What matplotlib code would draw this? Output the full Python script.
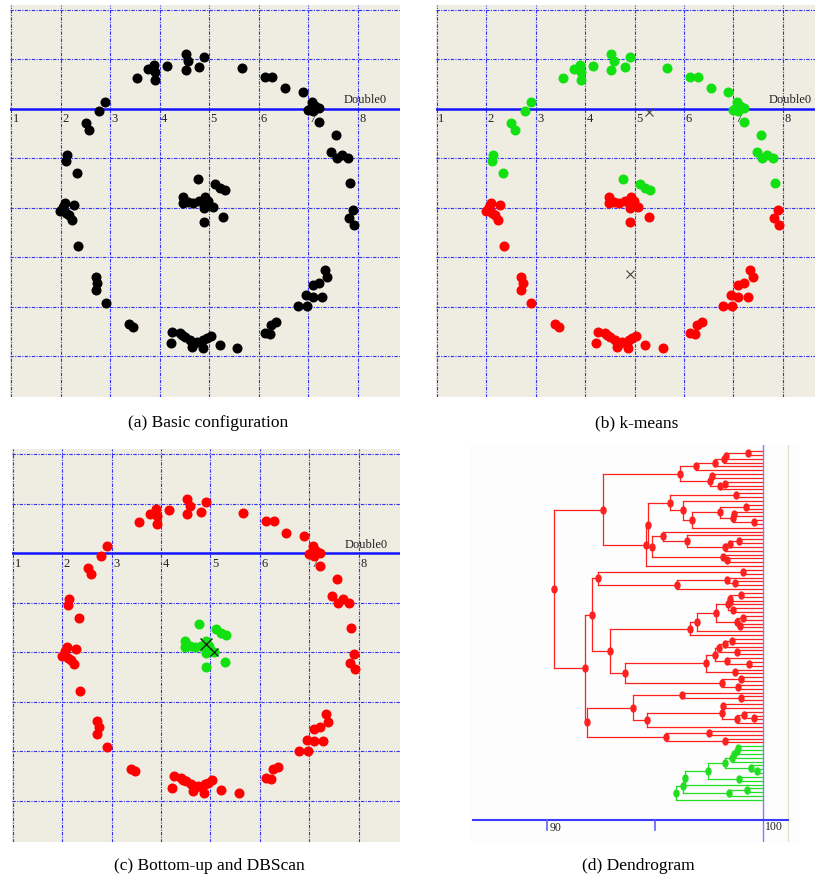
import numpy as np
import matplotlib.pyplot as plt
from matplotlib.path import Path
import matplotlib.transforms as mtransforms

# ---- point data ----
# outer ring, upper part: green in k-means, red in bottom-up
ring_up_x = [3.55, 3.77, 3.89, 3.91, 3.91, 4.16, 4.53, 4.58, 4.53, 4.80, 4.90, 5.66,
             6.13, 6.28, 6.54, 6.90, 7.07, 7.00, 7.14, 7.21, 7.05, 7.10, 7.21, 7.56,
             7.47, 7.58, 7.68, 7.81, 7.85, 2.90, 2.78, 2.51, 2.58, 2.14, 2.12, 2.33]
ring_up_y = [0.63, 0.80, 0.89, 0.75, 0.59, 0.87, 1.10, 0.96, 0.79, 0.84, 1.04, 0.82,
             0.65, 0.65, 0.42, 0.35, 0.15, -0.02, 0.05, 0.01, 0.02, -0.05, -0.26, -0.52,
             -0.86, -1.00, -0.93, -1.00, -1.50, 0.15, -0.05, -0.29, -0.42, -0.93, -1.05, -1.30]
# outer ring, lower part: red everywhere
ring_low_x = [7.90, 7.83, 7.93, 2.09, 2.27, 1.99, 2.12, 2.23, 2.05, 2.17, 2.36, 2.71,
              2.74, 2.71, 2.91, 3.39, 3.47, 4.26, 4.41, 4.23, 4.51, 4.61, 4.65, 4.75,
              4.88, 4.87, 5.03, 4.95, 4.70, 4.45, 5.22, 5.57, 6.13, 6.23, 6.26, 6.36,
              6.79, 6.98, 6.96, 7.10, 7.21, 7.09, 7.29, 7.34, 7.39]
ring_low_y = [-2.04, -2.21, -2.34, -1.90, -1.94, -2.07, -2.11, -2.24, -1.98, -2.15, -2.77, -3.39,
              -3.51, -3.65, -3.92, -4.35, -4.40, -4.50, -4.53, -4.73, -4.60, -4.66, -4.80, -4.70,
              -4.66, -4.83, -4.58, -4.63, -4.72, -4.57, -4.77, -4.83, -4.53, -4.55, -4.36, -4.31,
              -3.99, -3.99, -3.76, -3.55, -3.51, -3.79, -3.79, -3.25, -3.40]
# inner core, upper part: green in both
core_up_x = [4.77, 5.12, 5.22, 5.32]
core_up_y = [-1.42, -1.52, -1.60, -1.64]
# inner core, lower part: red in k-means, green in bottom-up
core_low_x = [4.48, 4.48, 4.68, 4.80, 4.92, 4.90, 4.98, 4.90, 5.07, 5.29, 4.90, 4.58, 4.92]
core_low_y = [-1.77, -1.90, -1.90, -1.87, -1.77, -1.92, -1.87, -2.01, -1.99, -2.19, -2.29, -1.88, -1.83]

kmeans_cx = [5.29, 4.90]
kmeans_cy = [-0.07, -3.34]
dbscan_cx = [4.90, 5.07]
dbscan_cy = [-1.83, -1.99]

x_ticks = [1, 2, 3, 4, 5, 6, 7, 8]
y_grid = [2, 1, -1, -2, -3, -4, -5]

# ---- dendrogram: (height, upper child, lower child), 0 = leaf ----
A1 = (96.18, (96.88, (97.77, (98.20, (98.28, (99.31, 0, 0), 0), 0), 0), 0),
      (97.54, (97.66, 0, 0), (98.03, (98.23, 0, 0), 0)))
A2 = (94.57, (94.66,
              (95.69, (98.74, 0, 0),
               (96.31, 0, (96.70, (98.03, (99.23, 0, 0), (98.62, (98.65, 0, 0), (99.60, 0, 0))), 0))),
              (94.88, (95.35, 0, (96.48, 0, (98.23, (98.49, (98.90, 0, 0), 0), 0))),
               (98.15, 0, (98.31, 0, 0)))), 0)
B1 = (92.08, (92.34, (99.08, 0, 0), (96.03, (98.31, 0, (98.68, 0, 0)), 0)),
      (92.91, (96.62, (96.95, (97.80, (98.40, (98.46, (99.00, 0, 0), (98.46, 0, 0)), (98.62, 0, 0)),
                                (98.80, (99.05, 0, 0), (98.95, 0, 0))), 0), 0),
       (93.62, (97.38, (97.77, (97.97, (98.23, (98.58, 0, 0), 0), (98.80, 0, 0)),
                        (98.31, 0, (99.35, 0, 0))), (98.70, 0, 0)),
        (98.08, (99.00, 0, 0), (98.85, 0, 0)))))
B2 = (91.86, (94.00, (96.23, 0, (99.00, 0, 0)),
              (94.62, (98.08, (98.15, 0, 0), (98.80, (99.10, 0, (99.60, 0, 0)), 0)), 0)),
      (95.49, (97.50, 0, 0), (98.26, 0, 0)))
red_tree = (90.35, (92.58, A1, A2), (91.78, B1, B2))
green_tree = (95.97, (96.28, (96.38, (97.46, (98.23, (98.58, (98.65, (98.80, (98.85, 0, 0), 0), 0), 0),
                                               (99.45, 0, (99.70, 0, 0))), (98.89, 0, 0)), 0),
                      (98.43, (99.26, 0, 0), 0)), 0)

serif = 'Liberation Serif'
bg = '#efece2'
grid_c = '#2f2fff'

fig = plt.figure(figsize=(8.15, 8.8), dpi=100)


def add_ax(l, t, r, b):
    return fig.add_axes([l / 815, 1 - b / 880, (r - l) / 815, (b - t) / 880])


def scatter_panel(ax, xlim, ylim):
    ax.set_facecolor(bg)
    ax.set_xlim(*xlim)
    ax.set_ylim(*ylim)
    ax.set_xticks([])
    ax.set_yticks([])
    for s in ax.spines.values():
        s.set_visible(False)
    for gx in x_ticks:
        ax.axvline(gx, color=grid_c, lw=0.8, ls=(0, (3, 1.2, 1, 1.2)), zorder=1)
    for gy in y_grid:
        ax.axhline(gy, color=grid_c, lw=0.8, ls=(0, (3, 1.2, 1, 1.2)), zorder=1)
    ax.axhline(0, color='#1414ff', lw=1.8, zorder=2)
    for k in x_ticks:
        ax.text(k + 0.03, -0.09, str(k), ha='left', va='top', fontsize=9,
                family=serif, color='#222222', zorder=3)
    ax.text(7.72, 0.05, 'Double0', ha='left', va='bottom', fontsize=9,
            family=serif, color='#222222', zorder=3)


def dots(ax, x, y, c):
    ax.plot(x, y, 'o', ms=6.2, color=c, mec=c, zorder=4)


red = '#ff0000'
green = '#11e011'

# (a)
ax_a = add_ax(10, 5, 400, 397)
scatter_panel(ax_a, (0.98, 8.855), (-5.82, 2.10))
for xs, ys in [(ring_up_x, ring_up_y), (ring_low_x, ring_low_y),
               (core_up_x, core_up_y), (core_low_x, core_low_y)]:
    dots(ax_a, xs, ys, 'black')

# (b)
ax_b = add_ax(436, 5, 815, 397)
scatter_panel(ax_b, (0.985, 8.65), (-5.82, 2.10))
dots(ax_b, ring_up_x, ring_up_y, green)
dots(ax_b, core_up_x, core_up_y, green)
dots(ax_b, ring_low_x, ring_low_y, red)
dots(ax_b, core_low_x, core_low_y, red)
ax_b.plot(kmeans_cx, kmeans_cy, 'x', ms=6, mew=0.8, color='#444444', zorder=5)

# (c)
ax_c = add_ax(12, 449, 400, 842)
scatter_panel(ax_c, (0.98, 8.84), (-5.83, 2.11))
dots(ax_c, ring_up_x, ring_up_y, red)
dots(ax_c, ring_low_x, ring_low_y, red)
dots(ax_c, core_up_x, core_up_y, green)
dots(ax_c, core_low_x, core_low_y, green)
ax_c.plot(dbscan_cx[:1], dbscan_cy[:1], 'x', ms=8, mew=1.0, color='#222222', zorder=5)
ax_c.plot(dbscan_cx[1:], dbscan_cy[1:], 'x', ms=6, mew=0.9, color='#222222', zorder=5)

# (d) dendrogram
ax_d = add_ax(470, 445, 800, 842)
ax_d.set_facecolor('#fdfdfd')
ax_d.set_xticks([])
ax_d.set_yticks([])
for s in ax_d.spines.values():
    s.set_visible(False)

ell = Path.unit_circle().transformed(mtransforms.Affine2D().scale(0.72, 1.0))
counter = [0]


def draw_tree(node, color):
    if node == 0:
        y = counter[0]
        counter[0] += 1
        return 100.0, y
    h, a, b = node
    ha, ya = draw_tree(a, color)
    hb, yb = draw_tree(b, color)
    ax_d.plot([h, h], [ya, yb], color=color, lw=0.9, zorder=2)
    ax_d.plot([h, ha], [ya, ya], color=color, lw=0.9, zorder=2)
    ax_d.plot([h, hb], [yb, yb], color=color, lw=0.9, zorder=2)
    y = (ya + yb) / 2
    ax_d.plot([h], [y], marker=ell, ms=5, color=color, mec=color, zorder=3)
    return h, y


draw_tree(red_tree, '#ff2020')
draw_tree(green_tree, '#22dd22')
n = counter[0]
sp = (800 - 451) / (n - 1)
ax_d.set_xlim(86.44, 101.71)
ax_d.set_ylim(n - 1 + (842 - 800) / sp, -(451 - 445) / sp)
axis_y = n - 1 + (820 - 800) / sp
ax_d.axvline(100, color='#8080ff', lw=1.0, zorder=4)
ax_d.axvline(101.16, color='#e6e2d0', lw=1.0, zorder=1)
ax_d.plot([86.6, 101.16], [axis_y, axis_y], color='#3a3aff', lw=1.5, zorder=4)
for tx in [90, 95]:
    ax_d.plot([tx, tx], [axis_y, axis_y + 10 / sp], color='#6060ff', lw=1.2, zorder=4)
ax_d.text(90.12, axis_y + 2 / sp, '90', ha='left', va='top', fontsize=8.5, family=serif, color='#222222')
ax_d.text(100.08, axis_y + 1 / sp, '100', ha='left', va='top', fontsize=8.5, family=serif, color='#222222')

# captions
cap = dict(ha='center', va='center', fontsize=12.5, family=serif)
fig.text(208 / 815, 1 - 423 / 880, '(a) Basic configuration', **cap)
fig.text(637 / 815, 1 - 423 / 880, '(b) k-means', **cap)
fig.text(209 / 815, 1 - 866 / 880, '(c) Bottom-up and DBScan', **cap)
fig.text(638 / 815, 1 - 866 / 880, '(d) Dendrogram', **cap)

fig.savefig('out.png', dpi=100, facecolor='white')
